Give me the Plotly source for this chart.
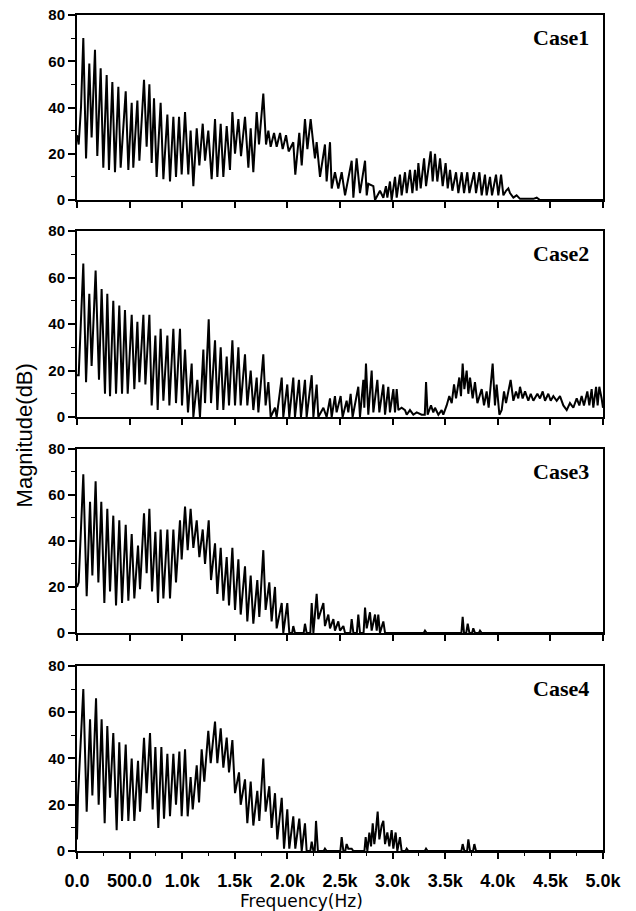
import plotly.graph_objects as go

# ---------------- data (frequency in Hz, magnitude in dB) ----------------
CASE_NAMES = ["Case1", "Case2", "Case3", "Case4"]

CASE1 = [(0,28),(16,24),(38,40),(60,70),(86,18),(117,59),(139,27),(171,65),(193,19),(225,57),(250,14),(282,54),
         (304,13),(336,51),(361,12),(393,49),(415,14),(463,47),(488,13),(520,42),(535,14),(574,43),(593,17),(637,52),
         (662,23),(688,50),(710,16),(732,44),(757,10),(795,42),(821,9),(859,37),(884,8),(916,36),(941,10),(970,36),
         (995,11),(1027,38),(1058,11),(1080,30),(1106,6),(1138,31),(1163,15),(1195,33),(1217,17),(1248,30),(1280,9),
         (1312,35),(1334,10),(1366,33),(1391,10),(1423,32),(1454,13),(1477,38),(1502,20),(1534,35),(1559,19),(1597,36),
         (1629,14),(1651,31),(1676,12),(1708,38),(1730,24),(1771,46),(1797,24),(1819,30),(1841,23),(1873,29),(1898,23),
         (1930,29),(1955,22),(1987,28),(2012,21),(2056,25),(2075,11),(2113,29),(2136,15),(2167,35),(2190,22),(2221,35),
         (2247,24),(2262,18),(2278,25),(2310,10),(2357,24),(2373,8),(2405,25),(2421,5),(2452,12),(2484,5),(2516,12),
         (2548,2),(2611,17),(2627,1),(2658,18),(2690,3),(2738,17),(2754,2),(2769,7),(2817,6),(2833,0),(2880,4),(2912,1),
         (2937,6),(2950,1),(2975,8),(2991,0),(3023,10),(3039,1),(3070,11),(3086,2),(3118,12),(3134,3),(3165,13),(3188,3),
         (3213,13),(3229,4),(3245,16),(3267,5),(3299,18),(3318,6),(3362,21),(3381,8),(3403,20),(3425,8),(3451,18),
         (3476,6),(3504,16),(3524,5),(3546,13),(3568,4),(3603,12),(3625,3),(3657,12),(3679,3),(3710,12),(3730,3),
         (3774,12),(3793,3),(3825,12),(3847,2),(3878,11),(3894,2),(3926,10),(3945,2),(3983,11),(4005,2),(4031,11),
         (4053,2),(4078,4),(4100,5),(4116,3),(4148,1),(4179,2),(4211,0.5),(4338,0.5),(4370,1),(4401,0),(5000,0)]

CASE2 = [(0,18),(16,18),(60,66),(86,15),(117,53),(139,22),(177,63),(209,16),(234,55),(266,10),(288,53),(314,9),
         (345,50),(371,10),(402,48),(428,10),(456,46),(482,10),(520,44),(545,12),(574,41),(593,15),(631,44),(650,14),
         (688,44),(710,5),(745,35),(767,3),(795,38),(821,7),(859,35),(878,5),(916,38),(941,6),(979,38),(998,5),
         (1027,29),(1055,2),(1090,23),(1106,0),(1144,16),(1169,0),(1201,29),(1217,6),(1252,42),(1274,6),(1312,33),
         (1334,3),(1366,30),(1391,3),(1423,26),(1445,5),(1477,33),(1502,5),(1534,30),(1556,5),(1597,27),(1619,5),
         (1651,20),(1676,3),(1708,17),(1724,2),(1771,27),(1793,5),(1819,15),(1841,0),(1882,4),(1898,0),(1946,17),
         (1961,0),(1999,14),(2018,0),(2056,17),(2072,0),(2110,16),(2129,0),(2167,16),(2183,0),(2231,18),(2247,0),
         (2278,14),(2294,0),(2342,4),(2373,0),(2405,8),(2421,0),(2452,9),(2468,2),(2506,9),(2525,0),(2563,7),(2579,2),
         (2601,10),(2620,0),(2674,13),(2690,0),(2722,16),(2731,4),(2747,23),(2769,1),(2801,20),(2817,2),(2855,16),
         (2874,2),(2912,14),(2928,1),(2959,13),(2975,2),(3007,12),(3023,2),(3039,12),(3055,3),(3086,4),(3118,3),
         (3134,1),(3165,3),(3197,1),(3229,2),(3276,1),(3306,1),(3318,15),(3333,1),(3365,5),(3387,2),(3403,4),(3435,1),
         (3466,3),(3482,1),(3514,5),(3539,9),(3562,6),(3584,14),(3603,8),(3634,17),(3650,9),(3666,23),(3682,12),
         (3704,20),(3720,10),(3736,17),(3761,8),(3783,15),(3806,6),(3847,12),(3869,5),(3894,11),(3913,4),(3951,23),
         (3973,5),(3989,14),(4015,1),(4037,3),(4059,11),(4078,6),(4122,16),(4148,7),(4173,11),(4195,8),(4211,13),
         (4236,8),(4259,11),(4290,7),(4313,10),(4338,7),(4376,10),(4401,8),(4427,11),(4449,7),(4480,10),(4503,7),
         (4528,9),(4560,7),(4591,9),(4623,5),(4655,3),(4686,6),(4718,4),(4750,8),(4775,5),(4797,9),(4819,5),(4851,11),
         (4870,5),(4892,12),(4908,4),(4934,13),(4949,5),(4965,13),(4987,8),(5000,4)]

CASE3 = [(0,20),(16,22),(60,69),(92,16),(124,57),(146,25),(177,66),(203,22),(231,57),(260,13),(288,54),(314,18),
         (345,51),(371,12),(402,49),(428,13),(463,47),(488,14),(520,43),(545,15),(580,38),(599,19),(637,52),(662,26),
         (688,54),(713,18),(745,44),(770,13),(795,45),(821,15),(859,45),(884,15),(916,45),(941,22),(979,49),(995,32),
         (1027,55),(1052,36),(1080,54),(1106,37),(1138,49),(1163,33),(1195,45),(1217,30),(1252,49),(1274,23),(1312,39),
         (1334,17),(1366,37),(1391,14),(1423,33),(1445,12),(1477,37),(1502,10),(1534,32),(1556,8),(1597,29),(1619,5),
         (1651,25),(1676,4),(1714,23),(1733,7),(1771,36),(1793,10),(1828,22),(1850,5),(1882,20),(1898,2),(1946,13),
         (1961,0),(1999,13),(2018,0),(2045,0),(2056,3),(2072,0),(2155,0),(2167,4),(2183,0),(2218,0),(2231,13),(2247,0),
         (2278,17),(2294,6),(2342,13),(2357,3),(2389,8),(2405,2),(2437,6),(2452,1),(2484,5),(2500,1),(2532,3),(2548,0),
         (2598,0),(2611,6),(2627,0),(2660,0),(2674,8),(2690,0),(2724,0),(2738,11),(2754,2),(2785,9),(2801,1),(2833,8),
         (2849,1),(2864,8),(2880,0),(2912,5),(2928,0),(3296,0),(3308,1),(3324,0),(3654,0),(3666,7),(3679,0),(3700,0),
         (3714,4),(3730,0),(3755,0),(3767,2),(3783,0),(3820,0),(3831,1),(3847,0),(5000,0)]

CASE4 = [(0,5),(10,24),(60,70),(92,17),(124,57),(146,24),(181,66),(206,20),(234,57),(263,12),(288,54),(314,23),
         (345,51),(377,9),(402,47),(428,13),(463,46),(488,13),(520,40),(545,13),(580,39),(599,17),(637,49),(662,25),
         (694,51),(719,18),(745,45),(773,10),(802,45),(827,14),(859,42),(884,15),(916,42),(941,20),(973,43),(995,15),
         (1027,44),(1052,15),(1080,32),(1100,18),(1138,37),(1160,21),(1185,44),(1210,30),(1248,52),(1271,38),(1312,56),
         (1334,38),(1366,53),(1391,36),(1423,49),(1445,34),(1477,48),(1502,25),(1540,34),(1556,20),(1597,31),(1619,12),
         (1651,30),(1676,11),(1714,26),(1733,13),(1771,40),(1793,17),(1828,28),(1850,10),(1882,25),(1904,5),(1946,23),
         (1968,1),(1999,18),(2018,1),(2056,15),(2075,1),(2113,14),(2136,0),(2167,12),(2183,0),(2218,0),(2231,4),(2247,0),
         (2260,0),(2272,13),(2290,0),(2345,0),(2357,1),(2373,0),(2503,0),(2516,6),(2532,0),(2550,0),(2563,3),(2579,1),
         (2611,1),(2627,0),(2732,0),(2744,6),(2760,0),(2779,8),(2795,2),(2811,12),(2826,3),(2842,9),(2858,17),(2874,5),
         (2896,11),(2912,13),(2928,3),(2950,8),(2969,2),(2991,9),(3007,1),(3029,8),(3045,0),(3070,6),(3086,0),(3122,0),
         (3134,1),(3150,0),(3306,0),(3318,1),(3333,0),(3654,0),(3666,3),(3682,0),(3708,0),(3720,5),(3736,0),(3765,0),
         (3777,3),(3793,0),(5000,0)]

X_TICK_VALS = [0, 500, 1000, 1500, 2000, 2500, 3000, 3500, 4000, 4500, 5000]
X_TICK_TEXT = ["0.0", "500.0", "1.0k", "1.5k", "2.0k", "2.5k", "3.0k", "3.5k", "4.0k", "4.5k", "5.0k"]
Y_TICK_VALS = [0, 20, 40, 60, 80]
X_RANGE = [0, 5000]
Y_RANGE = [0, 80]

# ---------------- figure ----------------
DOMAINS = [(0.7787, 1.0), (0.5191, 0.7416), (0.2608, 0.4809), (0.0, 0.2213)]
ALL = [CASE1, CASE2, CASE3, CASE4]

fig = go.Figure()
layout_axes = {}
annotations = []
for i, data in enumerate(ALL):
    n = "" if i == 0 else str(i + 1)
    f, m = zip(*data)
    fig.add_trace(go.Scatter(x=list(f), y=list(m), mode="lines",
                             line=dict(color="black", width=2),
                             xaxis="x" + n, yaxis="y" + n,
                             showlegend=False, hoverinfo="skip"))
    bottom = (i == len(ALL) - 1)
    xa = dict(domain=[0, 1], anchor="y" + n, range=X_RANGE, automargin=False,
              showline=True, mirror=True, linecolor="black", linewidth=2,
              showgrid=False, zeroline=False,
              ticks="outside", tickvals=X_TICK_VALS, ticktext=X_TICK_TEXT,
              ticklen=6, tickwidth=1.5, tickcolor="black",
              showticklabels=bottom,
              tickfont=dict(family="Liberation Sans", size=18, color="black", weight="bold"))
    if bottom:
        xa["minor"] = dict(dtick=250, ticklen=3, tickwidth=1.2, tickcolor="black",
                           ticks="outside", showgrid=False)
        xa["ticklabelstandoff"] = 6
    ya = dict(domain=list(DOMAINS[i]), anchor="x" + n, range=Y_RANGE, automargin=False,
              showline=True, mirror=True, linecolor="black", linewidth=2,
              showgrid=False, zeroline=False,
              ticks="outside", tickvals=Y_TICK_VALS, ticklen=7, tickwidth=1.5, tickcolor="black",
              minor=dict(dtick=10, ticklen=4, tickwidth=1.2, tickcolor="black",
                         ticks="outside", showgrid=False),
              tickfont=dict(family="Liberation Sans", size=15, color="black", weight="bold"))
    layout_axes["xaxis" + n] = xa
    layout_axes["yaxis" + n] = ya
    annotations.append(dict(text=CASE_NAMES[i], xref="x" + n + " domain", yref="y" + n + " domain",
                            x=0.977, y=0.88, xanchor="right", yanchor="middle", showarrow=False,
                            font=dict(family="Liberation Serif", size=22, color="black", weight="bold")))

annotations.append(dict(text="Magnitude(dB)", xref="paper", yref="paper", x=-0.099, y=0.497,
                        xanchor="center", yanchor="middle", textangle=-90, showarrow=False,
                        font=dict(family="Liberation Sans", size=22, color="black")))
annotations.append(dict(text="Frequency(Hz)", xref="paper", yref="paper", x=0.426, y=-0.0598,
                        xanchor="center", yanchor="middle", showarrow=False,
                        font=dict(family="DejaVu Sans", size=17, color="black")))

fig.update_layout(width=636, height=911,
                  margin=dict(l=77, r=33, t=15, b=60),
                  paper_bgcolor="white", plot_bgcolor="white",
                  annotations=annotations, **layout_axes)

# remove the browser's default 8px body margin so the figure sits at the page origin
fig.write_html("out.html", config={"displayModeBar": False},
               post_script="document.body.style.margin='0';")
